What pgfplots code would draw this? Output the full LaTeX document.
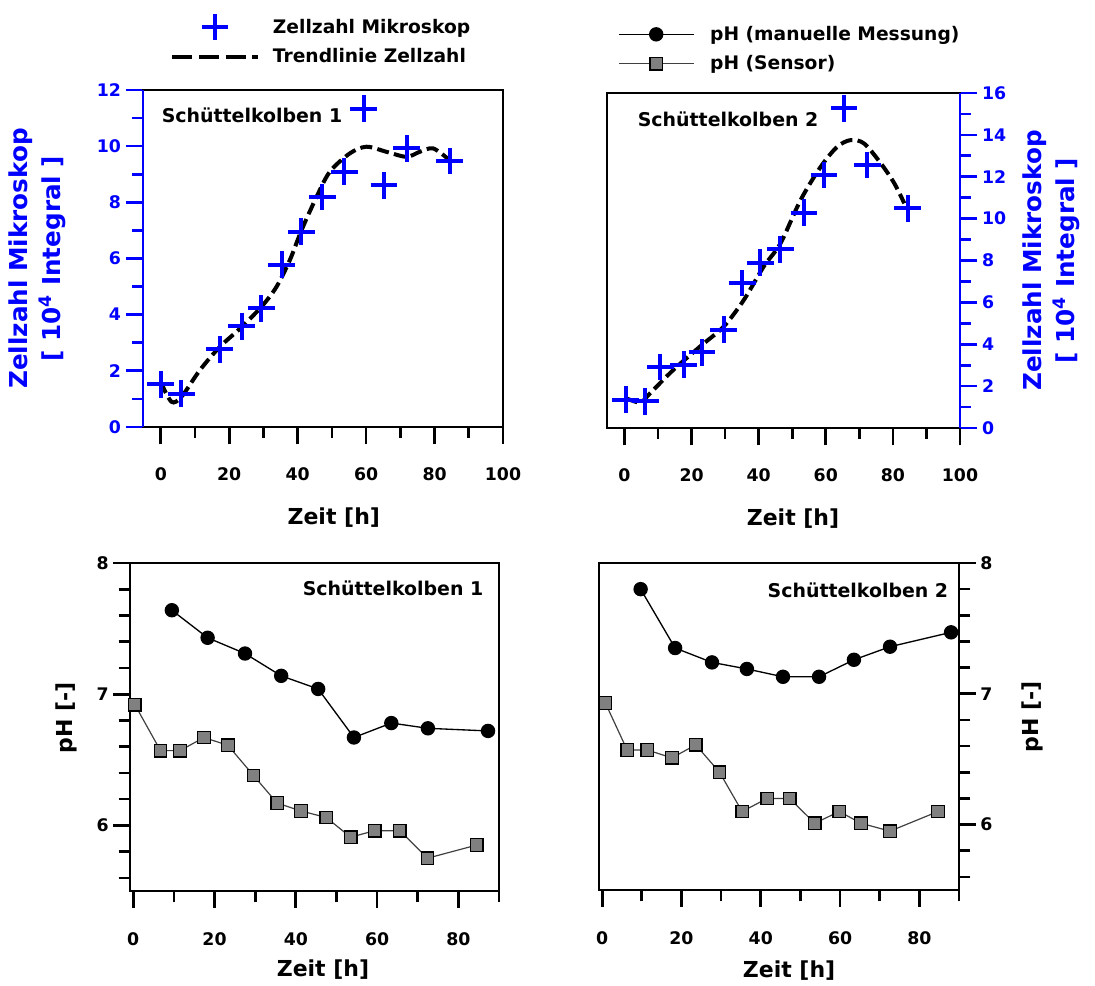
\documentclass[border=0pt]{standalone}
\usepackage{pgfplots}
\pgfplotsset{compat=1.18}
\usepackage{fontspec}
\setmainfont{DejaVu Sans}

\definecolor{zblue}{RGB}{0,0,255}
\definecolor{sqgray}{RGB}{128,128,128}

\tikzset{insetfont/.style={font=\bfseries\fontsize{14.2}{16}\selectfont}}

\pgfplotsset{
  base/.style={
    scale only axis,
    clip=false,
    axis line style={line width=2pt},
    every tick/.style={line width=2pt, black},
    tick align=outside,
    xtick pos=left,
    /pgf/number format/assume math mode=true,
    tick label style={font=\bfseries\fontsize{13}{15}\selectfont},
    label style={font=\bfseries\fontsize{16.5}{20}\selectfont},
    xlabel={Zeit [h]},
  },
  toprow/.style={
    base,
    xmin=-5.2, xmax=100,
    xtick={0,20,...,100},
    minor xtick={10,30,...,90},
    ymin=0,
    ytick style={zblue, line width=2pt},
    y tick label style={zblue},
    major tick length=13pt,
    minor tick length=8pt,
    xticklabel style={yshift=-14pt},
    ylabel style={font=\bfseries\fontsize{18.5}{24.5}\selectfont, zblue, align=center},
  },
  botrow/.style={
    base,
    xmin=-0.8, xmax=90,
    xtick={0,20,...,80},
    minor xtick={10,30,...,90},
    ymin=5.5, ymax=8,
    ytick={6,7,8},
    minor ytick={5.6,5.8,6.2,6.4,6.6,6.8,7.2,7.4,7.6,7.8},
    major tick length=12.5pt,
    minor tick length=8.5pt,
    xticklabel style={yshift=-15pt},
    ylabel={pH [-]},
  },
  plusmark/.style={only marks, zblue, mark=+, mark size=10pt, line width=3pt},
  trend/.style={black, line width=3pt, dash pattern=on 9pt off 4pt, smooth},
  manual/.style={black, line width=1pt, mark=*, mark size=4.9pt},
  sensor/.style={black!75, line width=0.9pt, mark=square*, mark size=4.7pt,
    mark options={fill=sqgray, draw=black, line width=1pt}},
  legfont/.style={font=\bfseries\fontsize{14}{16}\selectfont},
  pluslegend/.style={legend image code/.code={\draw[##1] plot coordinates {(32pt,0pt)};}},
  dashlegend/.style={legend image code/.code={\draw[##1, dash pattern=on 15pt off 5pt] (0pt,0pt) -- (64pt,0pt);}},
  phlegend/.style={legend image code/.code={\draw[##1] plot coordinates {(0pt,0pt) (28pt,0pt) (56pt,0pt)};}},
}

\begin{document}
\begin{tikzpicture}
\path (0pt,0pt) rectangle (821.25pt,738.75pt);

% Zellzahl, Schuettelkolben 1
\begin{axis}[toprow,
  at={(107.25pt,418.5pt)}, anchor=south west,
  width=270pt, height=252.75pt,
  ymax=12, ytick={0,2,...,12}, minor ytick={1,3,...,11},
  ytick pos=left,
  ylabel={Zellzahl Mikroskop\\{[} 10\textsuperscript{4} Integral ]},
  every axis y label/.append style={at={(axis description cs:-0.294,0.5)}, anchor=center},
  every axis x label/.append style={at={(axis description cs:0.53,-0.27)}, anchor=center},
  legend style={at={(0.075,1.227)}, anchor=north west, draw=none, fill=none,
    inner sep=0pt, legfont, cells={anchor=west}, column sep=8pt, row sep=4pt},
]
\addplot[plusmark, pluslegend]
  coordinates {(0,1.52) (6,1.19) (17.2,2.76) (23.6,3.59) (29.4,4.22) (35.3,5.78)
    (41.1,6.95) (47.2,8.19) (53.6,9.09) (59.3,11.34) (65.2,8.61) (71.8,9.92) (84.4,9.47)};
\addlegendentry{Zellzahl Mikroskop}
\addplot[trend, dashlegend]
  coordinates {(0,1.6) (3.1,0.9) (6,1.07) (11.4,2.02) (17.2,2.85) (23.1,3.5)
    (29.4,4.28) (33.8,4.99) (37.7,5.94) (41.1,7.0) (45.5,8.19) (49.4,9.09)
    (55.2,9.74) (60.1,9.98) (65.9,9.8) (71.8,9.62) (75.7,9.8) (79.6,9.92) (84.4,9.5)};
\addlegendentry{Trendlinie Zellzahl}
\draw[zblue, line width=2pt] (rel axis cs:0,0) -- (rel axis cs:0,1);
\node[anchor=west, insetfont]
  at (axis description cs:0.039,0.926) {Schüttelkolben 1};
\end{axis}

% Zellzahl, Schuettelkolben 2
\begin{axis}[toprow,
  at={(455.25pt,417.75pt)}, anchor=south west,
  width=264.75pt, height=251.25pt,
  ymax=16, ytick={0,2,...,16}, minor ytick={1,3,...,15},
  ytick pos=right, yticklabel pos=right,
  ylabel={Zellzahl Mikroskop\\{[} 10\textsuperscript{4} Integral ]},
  every axis y label/.append style={at={(axis description cs:1.258,0.5)}, anchor=center},
  every axis x label/.append style={at={(axis description cs:0.527,-0.269)}, anchor=center},
  legend style={at={(0.031,1.208)}, anchor=north west, draw=none, fill=none,
    inner sep=0pt, legfont, cells={anchor=west}, column sep=10pt, row sep=6pt},
  phlegend,
]
\addplot[plusmark, forget plot]
  coordinates {(0.4,1.35) (6.2,1.27) (10.7,2.91) (17.6,3.02) (23.1,3.61) (29.6,4.69)
    (35.1,6.92) (40.5,7.9) (46.5,8.54) (53.5,10.29) (59.5,12.08) (65.4,15.26)
    (72.4,12.56) (84.4,10.49)};
\addplot[trend, forget plot]
  coordinates {(0.4,1.43) (4.7,1.22) (7.7,1.67) (14.6,2.78) (22.6,3.9) (29.6,4.85)
    (35.6,6.12) (41.5,7.71) (46.5,8.82) (52.5,10.89) (58.5,12.48) (63.4,13.43)
    (67.4,13.75) (71.4,13.59) (76.4,12.64) (80.4,11.69) (83.4,10.73)};
\addlegendimage{manual, mark repeat=2, mark phase=2}
\addlegendentry{pH (manuelle Messung)}
\addlegendimage{sensor, mark repeat=2, mark phase=2}
\addlegendentry{pH (Sensor)}
\draw[zblue, line width=2pt] (rel axis cs:1,0) -- (rel axis cs:1,1);
\node[anchor=west, insetfont]
  at (axis description cs:0.074,0.922) {Schüttelkolben 2};
\end{axis}

% pH, Schuettelkolben 1
\begin{axis}[botrow,
  at={(97.5pt,70.5pt)}, anchor=south west,
  width=276.75pt, height=246pt,
  ytick pos=left,
  every axis y label/.append style={at={(axis description cs:-0.173,0.527)}, anchor=center},
  every axis x label/.append style={at={(axis description cs:0.523,-0.241)}, anchor=center},
]
\addplot[manual]
  coordinates {(9.5,7.64) (18.3,7.43) (27.5,7.31) (36.4,7.14) (45.5,7.04)
    (54.3,6.67) (63.5,6.78) (72.5,6.74) (87.3,6.72)};
\addplot[sensor]
  coordinates {(0.4,6.92) (6.7,6.57) (11.5,6.57) (17.4,6.67) (23.3,6.61) (29.6,6.38)
    (35.4,6.17) (41.3,6.11) (47.5,6.06) (53.5,5.91) (59.4,5.96) (65.6,5.96)
    (72.4,5.75) (84.5,5.85)};
\node[anchor=east, insetfont]
  at (axis description cs:0.970,0.924) {Schüttelkolben 1};
\end{axis}

% pH, Schuettelkolben 2
\begin{axis}[botrow,
  at={(449.25pt,71.25pt)}, anchor=south west,
  width=270pt, height=245.25pt,
  ytick pos=right, yticklabel pos=right,
  every axis y label/.append style={at={(axis description cs:1.203,0.529)}, anchor=center},
  every axis x label/.append style={at={(axis description cs:0.528,-0.245)}, anchor=center},
]
\addplot[manual]
  coordinates {(9.7,7.80) (18.4,7.35) (27.7,7.24) (36.5,7.19) (45.6,7.13)
    (54.7,7.13) (63.5,7.26) (72.6,7.36) (88.0,7.47)};
\addplot[sensor]
  coordinates {(0.8,6.93) (6.3,6.57) (11.4,6.57) (17.6,6.51) (23.6,6.61) (29.6,6.40)
    (35.3,6.10) (41.6,6.20) (47.3,6.20) (53.6,6.01) (59.8,6.10) (65.3,6.01)
    (72.6,5.95) (84.7,6.10)};
\node[anchor=east, insetfont]
  at (axis description cs:0.983,0.917) {Schüttelkolben 2};
\end{axis}
\end{tikzpicture}
\end{document}
